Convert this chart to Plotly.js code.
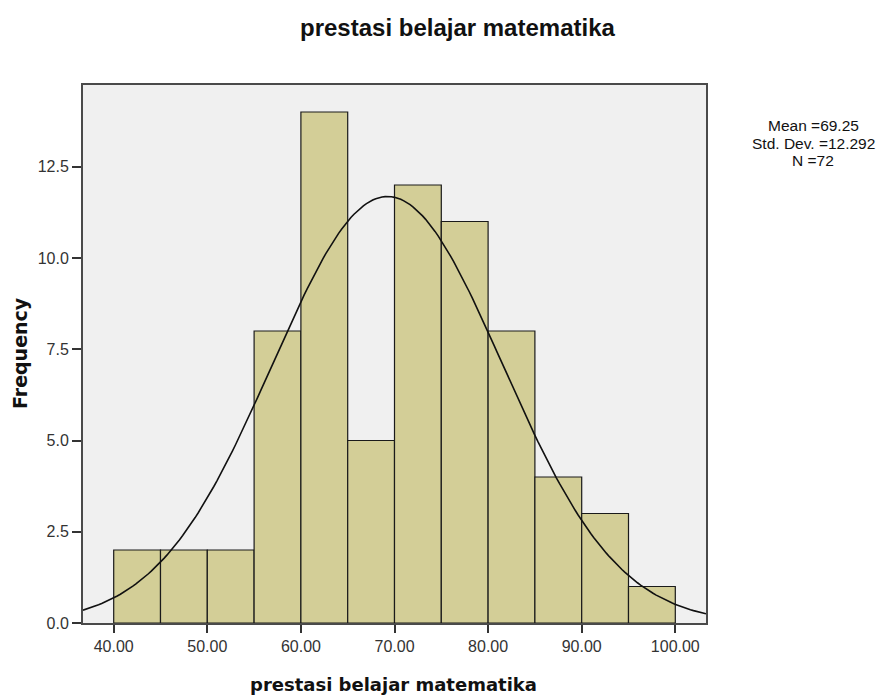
<!DOCTYPE html>
<html>
<head>
<meta charset="utf-8">
<script src="https://cdn.plot.ly/plotly-3.0.1.min.js"></script>
<style>html,body{margin:0;padding:0;background:#fff;}#chart{width:887px;height:698px;}</style>
</head>
<body>
<div id="chart"></div>
<script>
// Histogram bins (lower edges) and frequencies
const binStarts = [40, 45, 50, 55, 60, 65, 70, 75, 80, 85, 90, 95];
const frequencies = [2, 2, 2, 8, 14, 5, 12, 11, 8, 4, 3, 1];
const binWidth = 5;
// Summary statistics shown in the chart
const meanValue = 69.25;
const stdDev = 12.292;
const nCount = 72;
const xTickVals = [40, 50, 60, 70, 80, 90, 100];
const yTickVals = [0, 2.5, 5, 7.5, 10, 12.5];
const chartTitle = 'prestasi belajar matematika';
const xTitle = 'prestasi belajar matematika';
const yTitle = 'Frequency';

const xMin = 36.72, xMax = 103.28;
const centers = binStarts.map(b => b + binWidth / 2);

// Fitted normal curve defined by the displayed mean / std. dev. / N
const curveX = [], curveY = [];
for (let i = 0; i <= 200; i++) {
  const x = xMin + (xMax - xMin) * i / 200;
  const z = (x - meanValue) / stdDev;
  curveX.push(x);
  curveY.push(nCount * binWidth * Math.exp(-0.5 * z * z) / (stdDev * Math.sqrt(2 * Math.PI)));
}

const sans = 'Liberation Sans, Arial, sans-serif';
const dejavu = 'DejaVu Sans, sans-serif';
const data = [
  {type: 'bar', x: centers, y: frequencies, width: binWidth,
   marker: {color: '#d3ce97', line: {color: '#1a1a1a', width: 1.2}}, hoverinfo: 'x+y'},
  {type: 'scatter', mode: 'lines', x: curveX, y: curveY,
   line: {color: '#111', width: 1.6}, hoverinfo: 'skip'}
];
const axisCommon = {
  showgrid: false, zeroline: false, showline: true, mirror: true, linecolor: '#4a4a4a', linewidth: 2,
  ticks: 'outside', tickwidth: 2, tickcolor: '#333',
  tickfont: {family: sans, size: 16, color: '#333'}
};
const layout = {
  width: 887, height: 698,
  margin: {l: 83, r: 181, t: 85, b: 75},
  paper_bgcolor: '#ffffff', plot_bgcolor: '#f0f0f0',
  showlegend: false,
  font: {family: sans, color: '#222', size: 13},
  xaxis: Object.assign({}, axisCommon, {range: [xMin, xMax], tickvals: xTickVals,
          ticktext: xTickVals.map(v => v.toFixed(2)), ticklen: 8}),
  yaxis: Object.assign({}, axisCommon, {range: [0, 14.74], tickvals: yTickVals,
          ticktext: yTickVals.map(v => v.toFixed(1)), ticklen: 9}),
  annotations: [
    {xref: 'paper', yref: 'paper', x: 0.601, y: 1.106, xanchor: 'center', yanchor: 'middle', showarrow: false,
     text: '<b>' + chartTitle + '</b>', font: {family: sans, size: 24, color: '#111'}},
    {xref: 'paper', yref: 'paper', x: 0.499, y: -0.115, xanchor: 'center', yanchor: 'middle', showarrow: false,
     text: '<b>' + xTitle + '</b>', font: {family: dejavu, size: 18, color: '#111'}},
    {xref: 'paper', yref: 'paper', x: -0.101, y: 0.502, xanchor: 'center', yanchor: 'middle', showarrow: false,
     textangle: -90, text: '<b>' + yTitle + '</b>', font: {family: dejavu, size: 19, color: '#111'}},
    {xref: 'paper', yref: 'paper', x: 1.172, y: 0.924, xanchor: 'center', yanchor: 'middle', showarrow: false,
     text: 'Mean =' + meanValue.toFixed(2), font: {family: sans, size: 15.5, color: '#111'}},
    {xref: 'paper', yref: 'paper', x: 1.172, y: 0.891, xanchor: 'center', yanchor: 'middle', showarrow: false,
     text: 'Std. Dev. =' + stdDev.toFixed(3), font: {family: sans, size: 15.5, color: '#111'}},
    {xref: 'paper', yref: 'paper', x: 1.172, y: 0.860, xanchor: 'center', yanchor: 'middle', showarrow: false,
     text: 'N =' + nCount, font: {family: sans, size: 15.5, color: '#111'}}
  ]
};
Plotly.newPlot('chart', data, layout, {displayModeBar: false, staticPlot: true});
</script>
</body>
</html>
